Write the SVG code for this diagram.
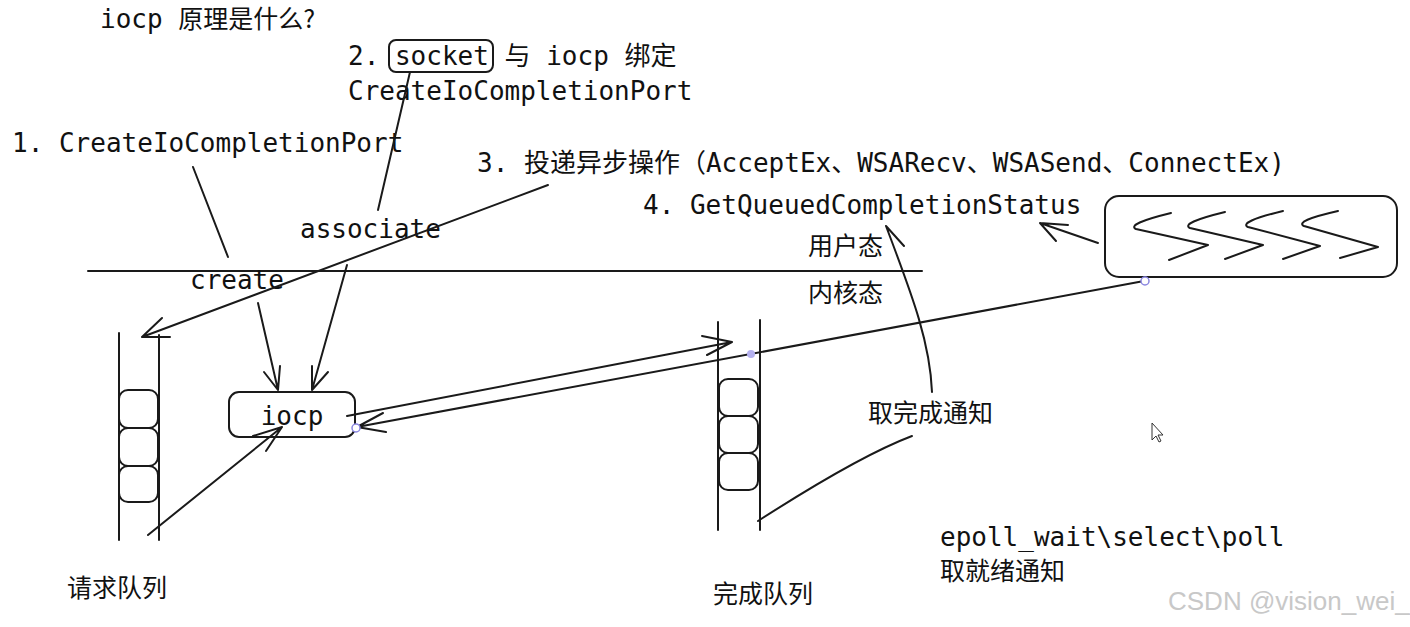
<svg xmlns="http://www.w3.org/2000/svg" width="1410" height="627" viewBox="0 0 1410 627">
<style>
.t{font-family:"DejaVu Sans Mono","Noto Sans CJK SC",monospace;font-size:26px;fill:#111}
.c{font-family:"Noto Sans CJK SC",sans-serif;font-size:25px;fill:#111}
.ln{fill:none;stroke:#1a1a1a;stroke-width:2;stroke-linecap:round;stroke-linejoin:round}
.bx{fill:#fff;stroke:#1a1a1a;stroke-width:2}
.h{fill:#fff;stroke:#8a86e0;stroke-width:1.5}
</style>
<rect width="1410" height="627" fill="#fff"/>
<g id="title"><text class="t" x="100" y="28" font-size="24">iocp <tspan class="c" font-size="24">原理是什么?</tspan></text></g>
<g id="step2">
<rect class="bx" x="389" y="40" width="104" height="32" rx="7" fill="none"/>
<text class="t" x="348" y="65">2. socket 与 iocp 绑定</text>
<text class="t" x="348" y="100">CreateIoCompletionPort</text>
</g>
<g id="step1"><text class="t" x="12" y="152">1. CreateIoCompletionPort</text></g>
<g id="step3"><text class="t" x="477" y="172">3. 投递异步操作（AcceptEx、WSARecv、WSASend、ConnectEx)</text></g>
<g id="step4"><text class="t" x="643" y="214">4. GetQueuedCompletionStatus</text></g>
<g id="modes">
<line class="ln" x1="88" y1="271" x2="922" y2="271"/>
<text class="c" x="808" y="255">用户态</text>
<text class="c" x="808" y="302">内核态</text>
</g>
<g id="labels">
<text class="t" x="300" y="238">associate</text>
<text class="t" x="190" y="289">create</text>
</g>
<g id="request-queue">
<line class="ln" x1="119" y1="333" x2="119" y2="540"/>
<line class="ln" x1="159" y1="335" x2="159" y2="540"/>
<rect class="bx" x="119" y="390" width="39" height="38" rx="9"/>
<rect class="bx" x="119" y="428" width="39" height="38" rx="9"/>
<rect class="bx" x="119" y="466" width="39" height="36" rx="9"/>
<text class="c" x="67" y="597">请求队列</text>
</g>
<g id="iocp">
<rect class="bx" x="229" y="392" width="126" height="45" rx="10"/>
<text class="t" x="292" y="425" text-anchor="middle">iocp</text>
</g>
<g id="completion-queue">
<line class="ln" x1="718" y1="322" x2="718" y2="530"/>
<line class="ln" x1="760" y1="320" x2="760" y2="530"/>
<rect class="bx" x="719" y="379" width="39" height="37" rx="9"/>
<rect class="bx" x="719" y="416" width="39" height="37" rx="9"/>
<rect class="bx" x="719" y="453" width="39" height="37" rx="9"/>
<text class="c" x="713" y="603">完成队列</text>
</g>
<g id="threads">
<rect class="bx" x="1105" y="196" width="292" height="81" rx="14"/>
<path class="ln" d="M1171,213 Q1126,224 1136,229 L1208,245 L1169,260"/>
<path class="ln" d="M1225,212 Q1180,223 1190,228 L1263,245 L1225,259"/>
<path class="ln" d="M1283,211 Q1238,222 1248,227 L1320,246 L1283,259"/>
<path class="ln" d="M1338,211 Q1294,221 1304,226 L1378,247 L1340,258"/>
</g>
<g id="notify">
<text class="c" x="868" y="422">取完成通知</text>
<text class="t" x="940" y="546">epoll_wait\select\poll</text>
<text class="c" x="940" y="580">取就绪通知</text>
</g>
<g id="connectors">
<line class="ln" x1="193" y1="167" x2="228" y2="257"/>
<path class="ln" d="M258,303 L278,390 M264,372 L278,390 L280,366"/>
<line class="ln" x1="410" y1="72" x2="378" y2="210"/>
<path class="ln" d="M347,265 L312,390 M312,366 L312,390 L328,372"/>
<path class="ln" d="M548,185 L142,337 M162,318 L142,337 L170,337"/>
<path class="ln" d="M148,535 L282,427 M253,436 L282,427 L266,451"/>
<path class="ln" d="M347,416 L732,342 M702,336 L732,342 L707,355"/>
<path class="ln" d="M1144,281 L357,427 M383,413 L357,427 L386,432"/>
<path class="ln" d="M1098,243 L1040,223 M1068,225 L1040,223 L1056,241"/>
<path class="ln" d="M758,521 Q859,456 912,436"/>
<path class="ln" d="M932,392 C930,340 910,290 886,226 M886,226 L904,246"/>
<circle class="h" cx="356" cy="428" r="4"/>
<circle cx="751" cy="354" r="4" fill="#b4b0ee"/>
<circle class="h" cx="1145" cy="281" r="4"/>
</g>
<path d="M1152,423 L1152,440 L1156,436 L1159,442 L1161,441 L1158,435 L1163,435 Z" fill="#fff" stroke="#333" stroke-width="1"/>
<text x="1168" y="610" font-family="Liberation Sans,sans-serif" font-size="26" fill="#c8c8c8">CSDN @vision_wei_</text>
</svg>
